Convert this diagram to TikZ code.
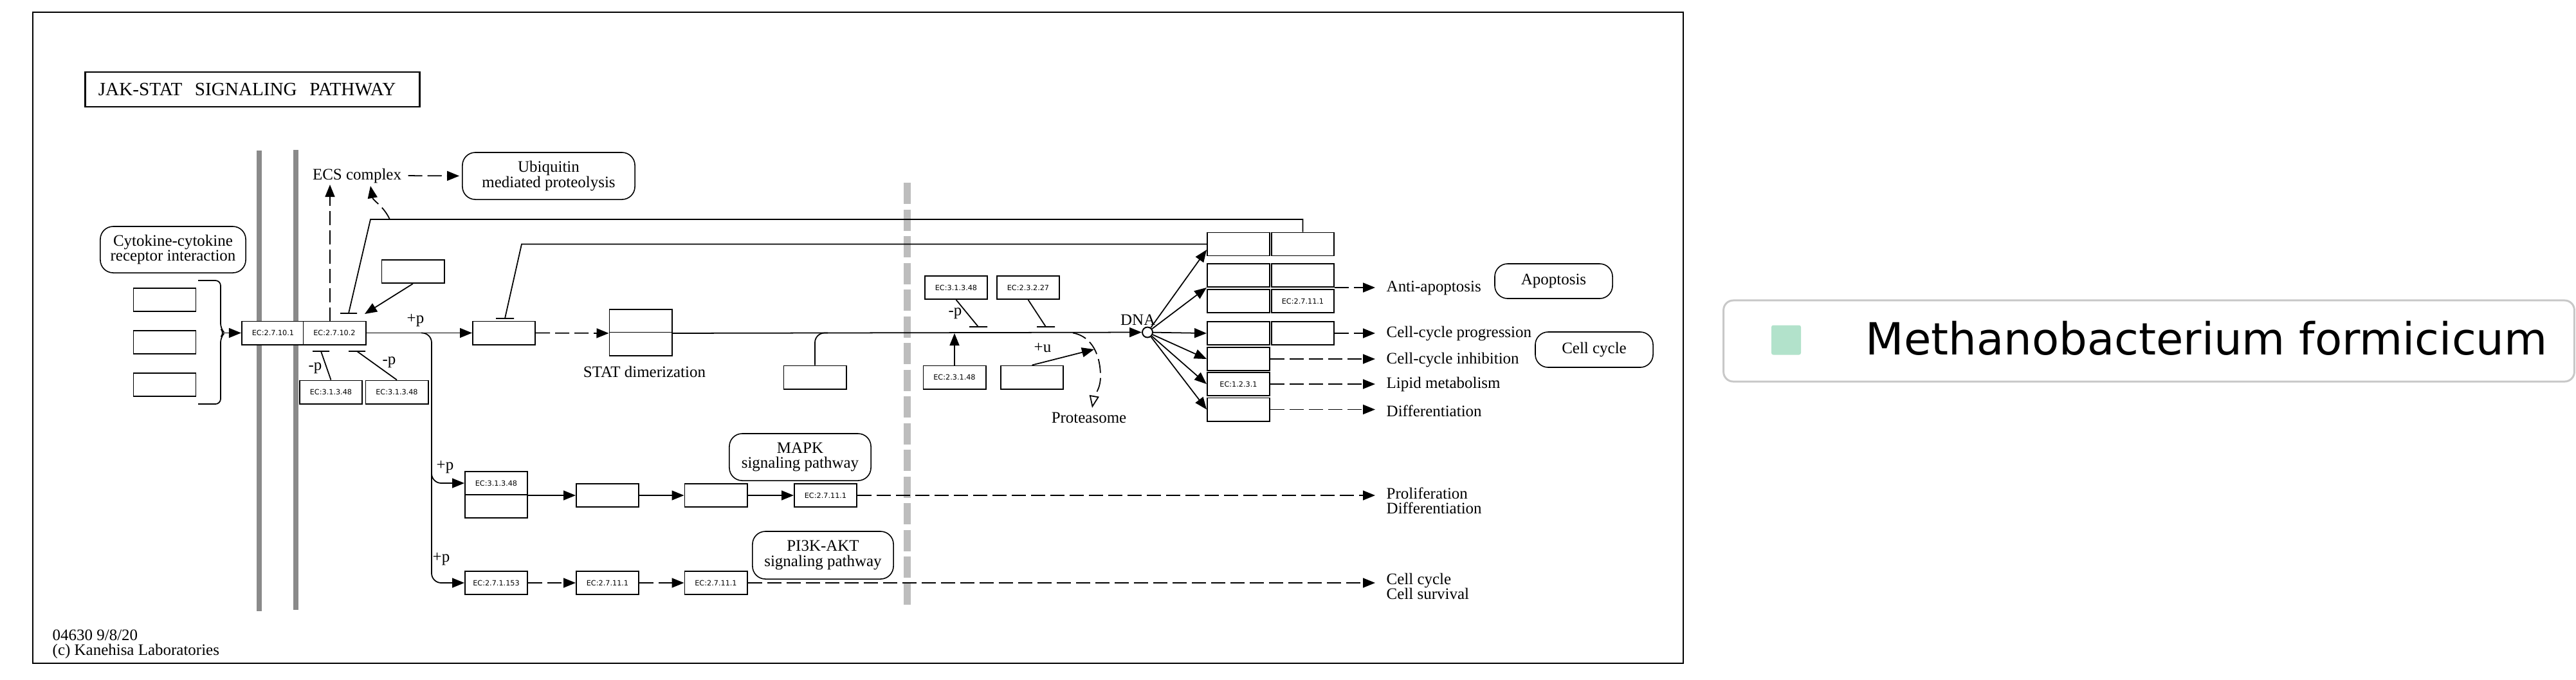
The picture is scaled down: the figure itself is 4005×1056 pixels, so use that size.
\documentclass[tikz,border=0pt]{standalone}
\usepackage{fontspec}
\setmainfont{Liberation Serif}
\newfontfamily\ecfont{DejaVu Sans}
\usetikzlibrary{arrows.meta}
\definecolor{memgray}{HTML}{8A8A8A}
\definecolor{nucgray}{HTML}{BDBDBD}
\definecolor{leggray}{HTML}{C8C8C8}
\definecolor{leggreen}{HTML}{B2E2CB}
\newcommand\kegg{\fontsize{7.1}{6.6}\selectfont}
\tikzset{
  gene/.style={draw,line width=0.55pt,fill=white,minimum width=0.97cm,minimum height=0.36cm,inner sep=0pt,font=\ecfont\fontsize{3.2}{3.6}\selectfont},
  map/.style={draw,line width=0.45pt,rounded corners=0.2cm,align=center,inner sep=0pt,font=\kegg},
  txt/.style={inner sep=0pt,font=\kegg},
  link/.style={line width=0.5pt},
  dashlink/.style={line width=0.5pt,dash pattern=on 0.22cm off 0.08cm},
  outlink/.style={dashlink,->,shorten >=0.17cm},
}
\begin{document}
\begin{tikzpicture}[x=0.01cm,y=-0.01cm,>={Triangle[length=0.19cm,width=0.15cm]}]
\useasboundingbox (0,0) rectangle (4005,1056);
% frame and title
\draw[line width=0.7pt] (51,19) rectangle (2617,1031);
\node[draw,line width=0.8pt,text width=4.79cm,inner xsep=0.2cm,minimum height=0.54cm,align=left,font=\fontsize{8.3}{9}\selectfont] (title) at (392.5,139) {JAK-STAT\ \ SIGNALING\ \ PATHWAY};
\node[txt,anchor=north west,align=left] (footer) at (81,978) {04630 9/8/20\\(c) Kanehisa Laboratories};
% membranes
\draw[memgray,line width=0.08cm] (403,234) -- (403,950);
\draw[memgray,line width=0.08cm] (460,233) -- (460,948);
\draw[nucgray,line width=0.11cm,dash pattern=on 0.33cm off 0.085cm] (1410,284) -- (1410,945);

% maps
\node[map,minimum width=2.26cm,minimum height=0.72cm] (cytok) at (269,388) {Cytokine-cytokine\\receptor interaction};
\node[map,minimum width=2.68cm,minimum height=0.73cm] (ubiq) at (853,273.5) {Ubiquitin\\mediated proteolysis};
\node[map,minimum width=2.20cm,minimum height=0.73cm] (mapkmap) at (1244,710.5) {MAPK\\signaling pathway};
\node[map,minimum width=2.19cm,minimum height=0.74cm] (pimap) at (1279.5,863) {PI3K-AKT\\signaling pathway};
\node[map,minimum width=1.83cm,minimum height=0.54cm] (apop) at (2415.5,437) {Apoptosis};
\node[map,minimum width=1.83cm,minimum height=0.55cm] (ccyc) at (2478.5,543.5) {Cell cycle};

% genes
\node[gene] (lig1) at (256,466) {};
\node[gene] (lig2) at (256,532) {};
\node[gene] (lig3) at (256,598) {};
\node[gene] (jak1) at (424.5,517.5) {EC:2.7.10.1};
\node[gene] (jak2) at (520,517.5) {EC:2.7.10.2};
\node[gene] (ptp1) at (514.5,609.5) {EC:3.1.3.48};
\node[gene] (ptp2) at (617,609.5) {EC:3.1.3.48};
\node[gene] (socs) at (642,422) {};
\node[gene] (stat1) at (783.5,517.5) {};
\node[gene] (dimer1) at (996,499) {};
\node[gene] (dimer2) at (996,534.5) {};
\node[gene] (nbox1) at (1267,586.5) {};
\node[gene] (nptp) at (1486.5,447) {EC:3.1.3.48};
\node[gene] (e3) at (1598.5,447) {EC:2.3.2.27};
\node[gene] (hat) at (1484,586.5) {EC:2.3.1.48};
\node[gene] (ubox) at (1604.5,586.5) {};
\node[gene] (ra1) at (1925.5,379.5) {};
\node[gene] (rb1) at (2025.5,379.5) {};
\node[gene] (ra2) at (1925.5,428) {};
\node[gene] (rb2) at (2025.5,428) {};
\node[gene] (ra3) at (1925.5,468) {};
\node[gene] (rb3) at (2025.5,468) {EC:2.7.11.1};
\node[gene] (ra4) at (1925.5,518) {};
\node[gene] (rb4) at (2025.5,518) {};
\node[gene] (ra5) at (1925.5,558) {};
\node[gene] (ra6) at (1925.5,597) {EC:1.2.3.1};
\node[gene] (ra7) at (1925.5,636.5) {};
\node[gene] (mapk1a) at (771.5,751) {EC:3.1.3.48};
\node[gene] (mapk1b) at (771.5,787) {};
\node[gene] (mapk2) at (944.5,770) {};
\node[gene] (mapk3) at (1113,770) {};
\node[gene] (mapk4) at (1283.5,770) {EC:2.7.11.1};
\node[gene] (pi1) at (771.5,906) {EC:2.7.1.153};
\node[gene] (pi2) at (944.5,906) {EC:2.7.11.1};
\node[gene] (pi3) at (1113,906) {EC:2.7.11.1};
\node[draw,circle,line width=0.55pt,minimum size=0.16cm,inner sep=0pt] (dna) at (1784,516.5) {};

% labels
\node[txt] (ecs) at (555,273) {ECS complex};
\node[txt] (statlbl) at (1002,578) {STAT dimerization};
\node[txt,anchor=base east] (dnalbl) at (1797,505) {DNA};
\node[txt] (protlbl) at (1693,649) {Proteasome};
\node[txt] (p1) at (646,498) {+p};
\node[txt] (p2) at (490,572) {-p};
\node[txt] (p3) at (605,563) {-p};
\node[txt] (p4) at (692,726) {+p};
\node[txt] (p5) at (686,869) {+p};
\node[txt] (p6) at (1485,487) {-p};
\node[txt] (u1) at (1621,541) {+u};
\node[txt,anchor=west] (anti) at (2155,448) {Anti-apoptosis};
\node[txt,anchor=west] (ccprog) at (2155,519) {Cell-cycle progression};
\node[txt,anchor=west] (ccinh) at (2155,560) {Cell-cycle inhibition};
\node[txt,anchor=west] (lipid) at (2155,597) {Lipid metabolism};
\node[txt,anchor=west] (diff) at (2155,639) {Differentiation};
\node[txt,anchor=north west,align=left] (prolif) at (2155,757) {Proliferation\\Differentiation};
\node[txt,anchor=north west,align=left] (ccsurv) at (2155,890) {Cell cycle\\Cell survival};

% points on the lines
\coordinate (brtip) at (349,517.5);
\coordinate (jakup) at (513,500);
\coordinate (ecsin) at (513,287);
\coordinate (top) at (576,341);
\coordinate (topbar) at (542,487);
\coordinate (ubst) at (606,341);
\coordinate (ubtip) at (576,289);
\coordinate (socstip) at (567,488);
\coordinate (ptpbar1) at (499,546);
\coordinate (ptpbar2) at (555,546);
\coordinate (l2) at (811,379.5);
\coordinate (l2bar) at (785,495);
\coordinate (brpt) at (655,517.5);
\coordinate (bend) at (671,906);
\coordinate (mbr) at (671,725);
\coordinate (nbr) at (1287,517.5);
\coordinate (npbar) at (1521,508);
\coordinate (e3bar) at (1626,508);
\coordinate (hattip) at (1484,518);
\coordinate (utip) at (1701,543);
\coordinate (prst) at (1668,517.5);
\coordinate (prmid) at (1711,585);
\coordinate (prtip) at (1698,634);

% receptor
\draw[link,rounded corners=0.08cm] (308,436) -| (343,511) -- (brtip) -- (343,524) |- (308,628);
\draw[link,->] (brtip) -- (jak1.west);
\draw[dashlink,->] (jakup) -- (ecsin);
\draw[dashlink,->,shorten <=0.1cm,shorten >=0.04cm] (ecs.east) -- (ubiq.west);
\draw[dashlink,->] (ubst) to[out=115,in=-80] (ubtip);
\draw[link,->] (socs.south) -- (socstip);
\draw[link] (ptp1.north) -- (ptpbar1) ++(-13,0) -- ++(26,0);
\draw[link] (ptp2.north) -- (ptpbar2) ++(-13,0) -- ++(26,0);
\draw[link] (rb1.north) |- (top) -- (topbar) ++(-13,0) -- ++(26,0);
\draw[link] (ra1.west) -- (l2) -- (l2bar) ++(-14,0) -- ++(28,0);

% STAT to nucleus
\draw[link,->] (jak2.east) -- (stat1.west);
\draw[dashlink,->] (stat1.east) -- (dimer1.south west);
\draw[link,->] (dimer1.south east) -- (dna.west);
\draw[link,rounded corners=0.15cm] (nbox1.north) |- (nbr);
\draw[link] (nptp.south) -- (npbar) ++(-14,0) -- ++(28,0);
\draw[link] (e3.south) -- (e3bar) ++(-14,0) -- ++(28,0);
\draw[link,->] (hat.north) -- (hattip);
\draw[link,->] (ubox.north) -- (utip);
\draw[dashlink,-{Triangle[open,length=0.19cm,width=0.15cm]}] (prst) to[out=-10,in=90] (prmid) to[out=-90,in=80] (prtip);

% DNA targets
\foreach \t in {ra1.190,ra2.south west,ra4.west,ra5.west,ra6.west,ra7.west}
  \draw[link,->] (dna) -- (\t);
\draw[outlink] (rb2.south east) -- (rb2.south east -| anti.west);
\draw[outlink] (rb4.east) -- (rb4.east -| ccprog.west);
\draw[outlink] (ra5.east) -- (ra5.east -| ccinh.west);
\draw[outlink] (ra6.east) -- (ra6.east -| lipid.west);
\draw[outlink] (ra7.east) -- (ra7.east -| diff.west);

% MAPK and PI3K branches
\draw[link,->,rounded corners=0.15cm] (brpt) -| (bend) -- (pi1.west);
\draw[link,->,rounded corners=0.15cm] (mbr) |- (mapk1a.west);
\draw[link,->] (mapk1a.south east) -- (mapk2.west);
\draw[link,->] (mapk2.east) -- (mapk3.west);
\draw[link,->] (mapk3.east) -- (mapk4.west);
\draw[outlink] (mapk4.east) -- (mapk4.east -| prolif.west);
\draw[dashlink,->] (pi1.east) -- (pi2.west);
\draw[dashlink,->] (pi2.east) -- (pi3.west);
\draw[outlink] (pi3.east) -- (pi3.east -| ccsurv.west);

% legend
\node[draw=leggray,line width=0.85pt,rounded corners=0.15cm,minimum width=13.22cm,minimum height=1.26cm] (legbox) at (3341,530) {};
\node[fill=leggreen,rounded corners=0.03cm,minimum size=0.46cm,inner sep=0pt] (swatch) at (2777,528.5) {};
\node[anchor=base west,inner sep=0pt,font=\ecfont\fontsize{19.6}{22}\selectfont] (legtxt) at (2900,551) {Methanobacterium formicicum};
\end{tikzpicture}
\end{document}
